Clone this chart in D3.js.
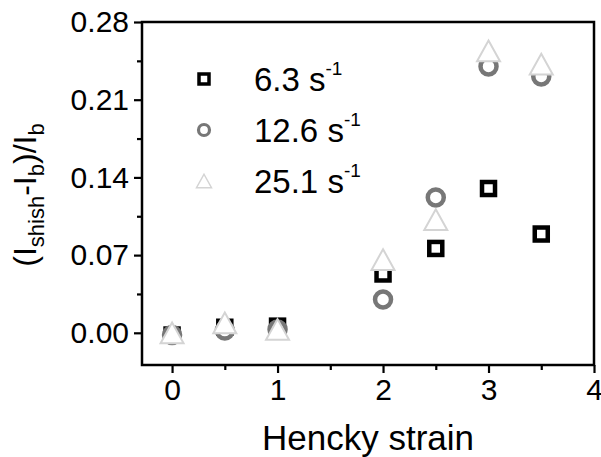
<!DOCTYPE html>
<html>
<head>
<meta charset="utf-8">
<script src="https://cdn.jsdelivr.net/npm/d3@7"></script>
<style>
  html, body { margin: 0; padding: 0; background: #fff; }
  svg { display: block; font-family: "Liberation Sans", Arial, sans-serif; }
</style>
</head>
<body>
<svg id="chart" width="601" height="457"></svg>
<script>
// Hencky strain values (x) shared by all three strain rates
const strain = [0, 0.5, 1, 2, 2.5, 3, 3.5];
// (I_shish - I_b)/I_b for each strain rate
const rate63 = [-0.002, 0.005, 0.006, 0.053, 0.076, 0.130, 0.089];
const rate126 = [-0.002, 0.002, 0.003, 0.030, 0.122, 0.240, 0.231];
const rate251 = [0.000, 0.009, 0.003, 0.066, 0.102, 0.254, 0.242];
const seriesNames = ["6.3", "12.6", "25.1"];
const xTicks = [0, 1, 2, 3, 4];
const yTicks = [0.00, 0.07, 0.14, 0.21, 0.28];

const svg = d3.select("#chart");
const m = { left: 142, right: 594, top: 22, bottom: 365 };

const x = d3.scaleLinear().domain([-0.285, 4]).range([m.left, m.right]);
const y = d3.scaleLinear().domain([-0.029, 0.28]).range([m.bottom, m.top]);

// axes: major ticks outside, minor ticks halfway between
const xMinor = d3.range(0.5, 4, 1);
const yMinor = [0.035, 0.105, 0.175, 0.245];

const gx = svg.append("g").attr("transform", `translate(0,${m.bottom})`);
gx.call(d3.axisBottom(x).tickValues(xTicks).tickSize(8).tickPadding(6).tickFormat(d3.format("d")));
gx.append("g").call(d3.axisBottom(x).tickValues(xMinor).tickSize(5).tickFormat(""));

const gy = svg.append("g").attr("transform", `translate(${m.left},0)`);
gy.call(d3.axisLeft(y).tickValues(yTicks).tickSize(8).tickPadding(5).tickFormat(d3.format(".2f")));
gy.append("g").call(d3.axisLeft(y).tickValues(yMinor).tickSize(5).tickFormat(""));

svg.selectAll(".domain").remove();
svg.selectAll(".tick line").attr("stroke", "#000").attr("stroke-width", 2.2);
svg.selectAll(".tick text")
  .attr("fill", "#000")
  .style("font-size", "30px")
  .style("font-family", "'Liberation Sans', Arial, sans-serif");

// frame
svg.append("rect")
  .attr("x", m.left).attr("y", m.top)
  .attr("width", m.right - m.left).attr("height", m.bottom - m.top)
  .attr("fill", "none").attr("stroke", "#000").attr("stroke-width", 2.5);

// marker shapes
const triPath = s => {
  const h = s * 0.9;
  return `M0,${-h / 2}L${s / 2},${h / 2}L${-s / 2},${h / 2}Z`;
};

const plot = svg.append("g");

plot.selectAll("rect.sq").data(strain.map((d, i) => [d, rate63[i]])).join("rect")
  .attr("class", "sq")
  .attr("x", d => x(d[0]) - 6.5).attr("y", d => y(d[1]) - 6.5)
  .attr("width", 13).attr("height", 13)
  .attr("fill", "#fff").attr("stroke", "#000").attr("stroke-width", 4.5);

plot.selectAll("circle.ci").data(strain.map((d, i) => [d, rate126[i]])).join("circle")
  .attr("class", "ci")
  .attr("cx", d => x(d[0])).attr("cy", d => y(d[1]))
  .attr("r", 8)
  .attr("fill", "#fff").attr("stroke", "#777").attr("stroke-width", 4.5);

plot.selectAll("path.tr").data(strain.map((d, i) => [d, rate251[i]])).join("path")
  .attr("class", "tr")
  .attr("transform", d => `translate(${x(d[0])},${y(d[1])})`)
  .attr("d", triPath(23))
  .attr("fill", "#fff").attr("stroke", "#d4d4d4").attr("stroke-width", 2);

// legend
const legend = svg.append("g");
const legY = [79, 130, 181];
legend.append("rect").attr("x", 204 - 5).attr("y", legY[0] - 5).attr("width", 10).attr("height", 10)
  .attr("fill", "#fff").attr("stroke", "#000").attr("stroke-width", 3.5);
legend.append("circle").attr("cx", 204).attr("cy", legY[1]).attr("r", 5.5)
  .attr("fill", "#fff").attr("stroke", "#777").attr("stroke-width", 3.2);
legend.append("path").attr("transform", `translate(204,${legY[2]})`).attr("d", triPath(15))
  .attr("fill", "#fff").attr("stroke", "#d4d4d4").attr("stroke-width", 1.5);

seriesNames.forEach((name, i) => {
  const t = legend.append("text")
    .attr("x", 254).attr("y", legY[i] + 12)
    .attr("fill", "#000")
    .style("font-size", "33px");
  t.append("tspan").text(name + " s");
  t.append("tspan").attr("dy", -16).style("font-size", "19px").text("-1");
});

// axis titles
svg.append("text")
  .attr("x", (m.left + m.right) / 2).attr("y", 450)
  .attr("text-anchor", "middle").attr("fill", "#000")
  .style("font-size", "35px")
  .text("Hencky strain");

const yl = svg.append("text")
  .attr("transform", "translate(36,195) rotate(-90)")
  .attr("text-anchor", "middle").attr("fill", "#000")
  .style("font-size", "32px");
yl.append("tspan").text("(I");
yl.append("tspan").attr("dy", 8).style("font-size", "22px").text("shish");
yl.append("tspan").attr("dy", -8).text("-I");
yl.append("tspan").attr("dy", 8).style("font-size", "22px").text("b");
yl.append("tspan").attr("dy", -8).text(")/I");
yl.append("tspan").attr("dy", 8).style("font-size", "22px").text("b");
</script>
</body>
</html>
